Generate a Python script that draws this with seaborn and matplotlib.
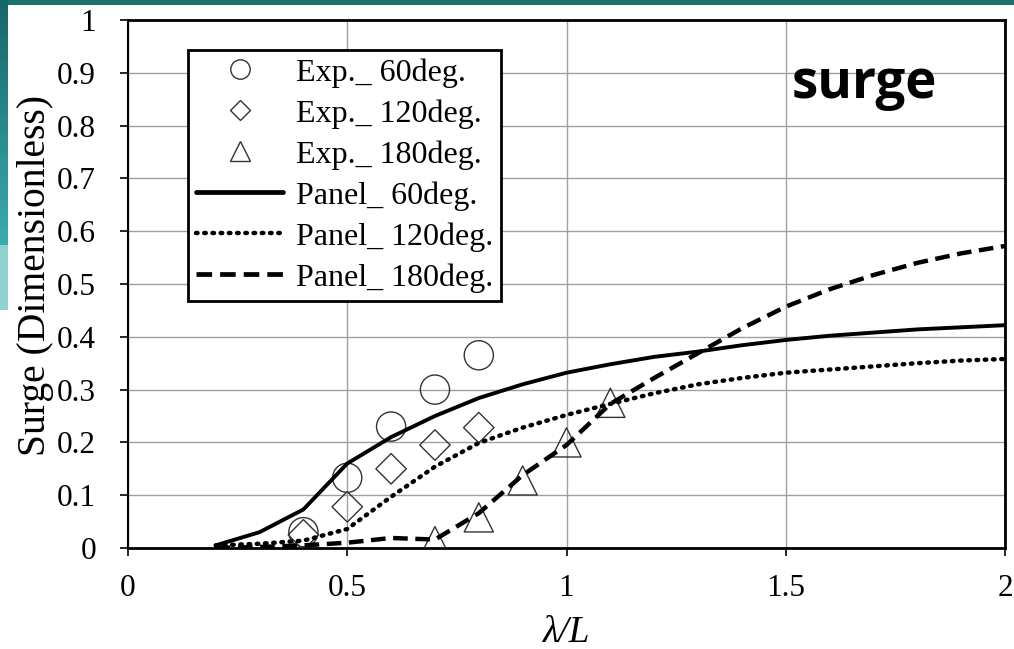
import numpy as np
import pandas as pd
import matplotlib.pyplot as plt
import seaborn as sns
from matplotlib.lines import Line2D
from matplotlib.patches import Rectangle
from matplotlib.colors import LinearSegmentedColormap

# experimental points
exp_x = [0.4, 0.5, 0.6, 0.7, 0.8]
exp_60 = [0.03, 0.133, 0.23, 0.30, 0.365]
exp_120 = [0.025, 0.078, 0.15, 0.195, 0.228]
exp_180_x = [0.7, 0.8, 0.9, 1.0, 1.1]
exp_180 = [0.013, 0.058, 0.128, 0.2, 0.275]

# panel method curves
panel_x = [0.2, 0.3, 0.4, 0.5, 0.6, 0.7, 0.8, 0.9, 1.0, 1.1,
           1.2, 1.3, 1.4, 1.5, 1.6, 1.7, 1.8, 1.9, 2.0]
panel_60 = [0.005, 0.03, 0.073, 0.16, 0.21, 0.25, 0.284, 0.31, 0.332, 0.348,
            0.362, 0.372, 0.384, 0.394, 0.402, 0.408, 0.414, 0.418, 0.422]
panel_120 = [0.005, 0.008, 0.014, 0.036, 0.097, 0.154, 0.199, 0.228, 0.252, 0.273,
             0.293, 0.31, 0.322, 0.332, 0.338, 0.344, 0.35, 0.355, 0.358]
panel_180 = [0.0, 0.002, 0.005, 0.01, 0.019, 0.016, 0.066, 0.138, 0.195, 0.273,
             0.322, 0.369, 0.416, 0.457, 0.49, 0.517, 0.54, 0.558, 0.572]

x_ticks = [0, 0.5, 1, 1.5, 2]
x_labels = ["0", "0.5", "1", "1.5", "2"]
y_ticks = [0, 0.1, 0.2, 0.3, 0.4, 0.5, 0.6, 0.7, 0.8, 0.9, 1]
y_labels = ["0", "0.1", "0.2", "0.3", "0.4", "0.5", "0.6", "0.7", "0.8", "0.9", "1"]

sns.set_style("white")
plt.rcParams['font.family'] = ['Liberation Serif', 'DejaVu Serif']
plt.rcParams['text.color'] = 'black'
plt.rcParams['xtick.color'] = 'black'
plt.rcParams['ytick.color'] = 'black'
plt.rcParams['axes.labelcolor'] = 'black'

fig = plt.figure(figsize=(10.14, 6.49), dpi=100)
fig.patch.set_facecolor("white")

# slide decoration
fig.add_artist(Rectangle((0, (649 - 5) / 649), 1, 5 / 649, transform=fig.transFigure,
                         facecolor="#1b7170", edgecolor="none", zorder=0))
strip = fig.add_axes([0, (649 - 245) / 649, 8 / 1014, 245 / 649])
cmap = LinearSegmentedColormap.from_list("teal", ["#17676b", "#3aabab"])
strip.imshow(np.linspace(0, 1, 100).reshape(-1, 1), aspect="auto", cmap=cmap)
strip.axis("off")
fig.add_artist(Rectangle((0, (649 - 310) / 649), 8 / 1014, 65 / 649, transform=fig.transFigure,
                         facecolor="#8fd2cf", edgecolor="none", zorder=0))

ax = fig.add_axes([128 / 1014, (649 - 548) / 649, 877 / 1014, 528 / 649])

mk_edge = "#333333"
sns.scatterplot(x=exp_x, y=exp_60, ax=ax, marker="o", s=21 ** 2, facecolors="none",
                edgecolors=mk_edge, linewidths=1.0, zorder=3)
sns.scatterplot(x=exp_x, y=exp_120, ax=ax, marker="D", s=15.5 ** 2, facecolors="none",
                edgecolors=mk_edge, linewidths=1.0, zorder=3)
sns.scatterplot(x=exp_180_x, y=exp_180, ax=ax, marker="^", s=21 ** 2, facecolors="none",
                edgecolors=mk_edge, linewidths=1.0, zorder=3)

dot_style = (0, (0.35, 1.5))
dash_style = (0, (3.3, 1.7))
sns.lineplot(x=panel_x, y=panel_60, ax=ax, color="black", lw=2.8, zorder=4)
sns.lineplot(x=panel_x, y=panel_120, ax=ax, color="black", lw=3.2,
             linestyle=dot_style, dash_capstyle="round", zorder=4)
sns.lineplot(x=panel_x, y=panel_180, ax=ax, color="black", lw=3.2,
             linestyle=dash_style, zorder=4)

ax.set_xlim(0, 2)
ax.set_ylim(0, 1)
ax.set_xticks(x_ticks)
ax.set_xticklabels(x_labels)
ax.set_yticks(y_ticks)
ax.set_yticklabels(y_labels)
ax.tick_params(axis="both", labelsize=22.5, direction="out", length=6, width=1.2,
               color="black", left=True, bottom=True)
ax.tick_params(axis="x", pad=13)
ax.tick_params(axis="y", pad=17)
ax.grid(True, color="#a0a0a0", lw=1.0)
for s in ax.spines.values():
    s.set_visible(True)
    s.set_color("black")
    s.set_linewidth(2)
ax.spines["left"].set_linewidth(1.5)

ax.set_xlabel("λ/L", fontsize=27, fontstyle="italic", labelpad=9)
ax.set_ylabel("Surge (Dimensionless)", fontsize=28.5)
ax.yaxis.set_label_coords(-0.084, 0.517)

ax.text(0.84, 0.879, "surge", transform=ax.transAxes, fontsize=38, fontweight="bold",
        color="black", family=["Open Sans", "DejaVu Sans"], ha="center", va="center")

handles = [
    Line2D([], [], ls="none", marker="o", ms=14, mfc="none", mec=mk_edge, mew=1.0),
    Line2D([], [], ls="none", marker="D", ms=10.5, mfc="none", mec=mk_edge, mew=1.0),
    Line2D([], [], ls="none", marker="^", ms=14, mfc="none", mec=mk_edge, mew=1.0),
    Line2D([], [], color="black", lw=3.4),
    Line2D([], [], color="black", lw=3.2, ls=dot_style, dash_capstyle="round"),
    Line2D([], [], color="black", lw=3.4, ls=dash_style),
]
labels = ["Exp._ 60deg.", "Exp._ 120deg.", "Exp._ 180deg.",
          "Panel_ 60deg.", "Panel_ 120deg.", "Panel_ 180deg."]
leg = ax.legend(handles, labels, loc="upper left", bbox_to_anchor=(0.068, 0.943),
                borderaxespad=0, fontsize=23, frameon=True, fancybox=False,
                edgecolor="black", framealpha=1, handlelength=2.75, handletextpad=0.4,
                labelspacing=0.36, borderpad=0.25)
leg.get_frame().set_linewidth(2)
leg.set_zorder(5)

fig.savefig("out.png", dpi=100)
